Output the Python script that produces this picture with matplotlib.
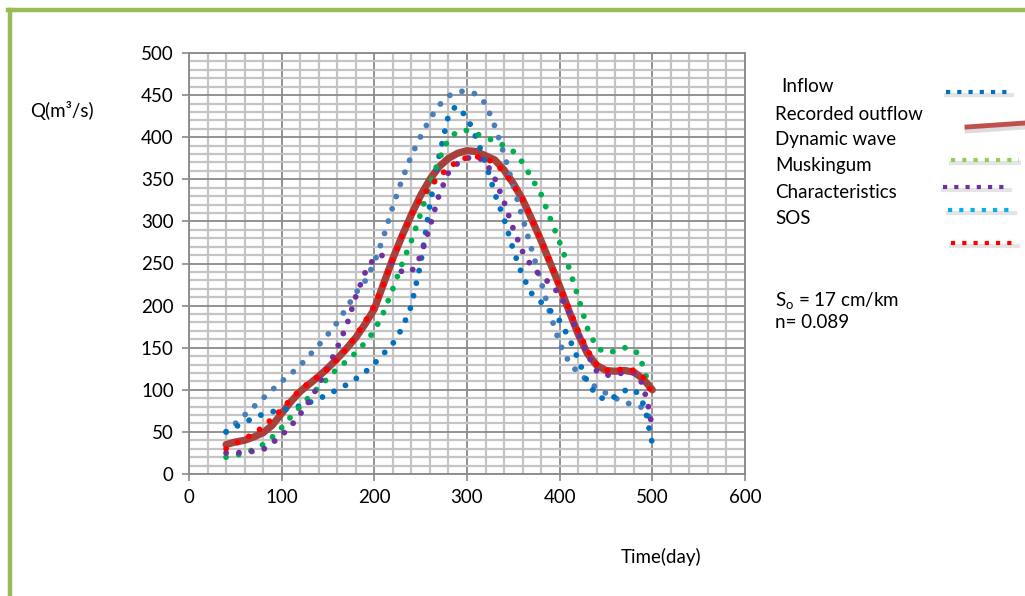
import numpy as np
import matplotlib
matplotlib.use("Agg")
import matplotlib.pyplot as plt
from matplotlib.lines import Line2D

plt.rcParams['font.family'] = ['Lato', 'DejaVu Sans']
plt.rcParams['mathtext.fontset'] = 'custom'
plt.rcParams['mathtext.rm'] = 'Lato'
plt.rcParams['mathtext.it'] = 'Lato:italic'

# time axis (day) for each series
t_inflow = [40, 50, 60, 70, 80, 90, 100, 110, 120, 130, 140, 150, 160, 170, 180, 190,
            200, 210, 220, 230, 240, 250, 260, 270, 280, 290, 300, 310, 320, 330, 340,
            350, 360, 370, 380, 390, 400, 410, 420, 430, 440, 450, 460, 470, 480, 490,
            495, 500]
q_inflow = [50, 60, 70, 80, 90, 100, 110, 119, 129, 141, 153, 166, 180, 197, 215, 229,
            251, 282, 318, 350, 378, 401, 422, 438, 449, 454, 455, 451, 440, 413, 380,
            342, 304, 266, 228, 189, 155, 133, 120, 111, 102, 96, 90, 86, 81, 79,
            72, 60]

t_blue2 = [40, 50, 60, 70, 80, 90, 100, 110, 120, 130, 140, 150, 160, 170, 180, 190,
           200, 210, 220, 230, 240, 250, 260, 270, 280, 288, 300, 310, 320, 330, 340,
           350, 360, 370, 380, 390, 400, 410, 420, 430, 440, 450, 460, 470, 480, 486,
           492, 495, 497, 500]
q_blue2 = [50, 56, 61, 67, 71, 74, 76, 78, 81, 85, 89, 95, 100, 106, 113, 121,
           131, 143, 155, 173, 200, 250, 320, 378, 426, 437, 424, 399, 370, 333, 303,
           266, 235, 214, 204, 194, 182, 162, 136, 109, 93, 88, 92, 99, 101, 93,
           79, 63, 51, 36]

t_green = [40, 50, 60, 70, 80, 90, 100, 110, 120, 130, 140, 150, 160, 170, 180, 190,
           200, 210, 220, 230, 240, 250, 260, 270, 280, 290, 300, 310, 320, 330, 340,
           350, 360, 370, 380, 390, 400, 410, 420, 430, 440, 450, 460, 470, 480, 485,
           490, 495, 500]
q_green = [20, 22, 25, 29, 35, 44, 55, 68, 80, 92, 103, 114, 125, 134, 144, 156,
           170, 192, 220, 250, 277, 309, 344, 374, 398, 407, 408, 404, 400, 395, 390,
           383, 370, 351, 332, 303, 275, 245, 210, 173, 150, 144, 146, 150, 148, 142,
           128, 110, 92]

t_purple = [40, 50, 60, 70, 80, 90, 100, 110, 120, 130, 140, 150, 160, 170, 180, 190,
            200, 210, 220, 230, 240, 250, 260, 270, 280, 290, 300, 310, 320, 330, 340,
            350, 360, 370, 380, 390, 400, 410, 420, 430, 440, 450, 460, 470, 480, 485,
            490, 495, 500]
q_purple = [25, 25, 26, 27, 29, 37, 46, 57, 71, 87, 106, 127, 150, 176, 211, 239,
            257, 260, 250, 240, 240, 259, 294, 332, 358, 369, 375, 377, 371, 351, 323,
            291, 264, 246, 235, 226, 213, 192, 167, 142, 122, 117, 119, 120, 120, 118,
            104, 84, 55]

t_red = [40, 50, 60, 70, 80, 90, 100, 110, 120, 130, 140, 150, 160, 170, 180, 190,
         200, 210, 220, 230, 240, 250, 260, 270, 280, 290, 300, 310, 320, 330, 340,
         350, 360, 370, 380, 390, 400, 410, 420, 430, 440, 450, 460, 470, 480, 490,
         500]
q_red = [30, 36, 42, 48, 56, 66, 77, 89, 100, 109, 116, 125, 136, 149, 164, 181,
         200, 226, 255, 283, 308, 327, 342, 353, 364, 371, 376, 377, 375, 369, 359,
         343, 326, 303, 277, 250, 222, 197, 170, 147, 130, 123, 123, 125, 123, 115,
         96]

t_rec = [40, 50, 60, 70, 80, 90, 100, 110, 120, 130, 140, 150, 160, 170, 180, 190,
         200, 210, 220, 230, 240, 250, 260, 270, 280, 290, 300, 310, 320, 330, 340,
         350, 360, 370, 380, 390, 400, 410, 420, 430, 440, 450, 460, 470, 480, 490,
         500]
q_rec = [35, 38, 40, 44, 49, 58, 72, 86, 98, 107, 116, 126, 137, 149, 162, 178,
         196, 226, 256, 283, 308, 331, 350, 365, 375, 381, 384, 383, 378, 373, 361,
         345, 326, 302, 277, 250, 223, 194, 166, 143, 129, 123, 122, 123, 121, 113,
         100]

legend_labels = ["Inflow", "Recorded outflow", "Dynamic wave", "Muskingum",
                 "Characteristics", "SOS"]

W, H = 1025, 596
fig = plt.figure(figsize=(W / 100, H / 100), dpi=100)
ax = fig.add_axes([189 / W, 1 - 474 / H, (745 - 189) / W, (474 - 53) / H])

def fx(px):
    return px / W

def fy(py):
    return 1 - py / H

fs = 13.5
dot = dict(linestyle=(0, (0.01, 2.2)), dash_capstyle='round', lw=4.2)
ax.plot(t_rec, q_rec, color='#A8403C', lw=5.2, solid_capstyle='round', zorder=3)
ax.plot(t_inflow, q_inflow, color='#4A7EBB', zorder=4, **dot)
ax.plot(t_blue2, q_blue2, color='#0070C0', zorder=4, **dot)
ax.plot(t_green, q_green, color='#00B050', zorder=4, **dot)
ax.plot(t_purple, q_purple, color='#7030A0', zorder=4, **dot)
ax.plot(t_red, q_red, color='#FF0000', zorder=5, **dot)

ax.set_xlim(0, 600)
ax.set_ylim(0, 500)
ax.set_xticks(np.arange(0, 601, 100))
ax.set_yticks(np.arange(0, 501, 50))
ax.set_xticks(np.arange(0, 601, 20), minor=True)
ax.set_yticks(np.arange(0, 501, 10), minor=True)
ax.grid(which='minor', color='#c4c4c4', lw=1.6, zorder=0)
ax.grid(which='major', color='#8a8a8a', lw=1.3, zorder=1)
ax.set_axisbelow(True)
ax.tick_params(which='major', direction='out', length=5, width=1.2, color='#8a8a8a',
               labelsize=fs, pad=6)
ax.tick_params(which='minor', length=0)
for s in ax.spines.values():
    s.set_color('#8a8a8a')
    s.set_linewidth(1.3)

fig.text(fx(30), fy(110), "Q(m³/s)", fontsize=fs, va='center', ha='left')
fig.text(fx(661), fy(557), "Time(day)", fontsize=fs, va='center', ha='center')

# legend drawn by hand, as in the original picture
text_y = [86, 114, 140, 166, 193, 219]
text_x = [781, 775, 775, 775, 775, 775]
for lab, x, y in zip(legend_labels, text_x, text_y):
    fig.text(fx(x), fy(y), lab, fontsize=fs, va='center', ha='left')

samples = [((946, 1012), (92, 92), '#0070C0', 'dot'),
           ((967, 1025), (127, 123), '#C0504D', 'solid'),
           ((951, 1019), (160, 160), '#92D050', 'dot'),
           ((943, 1010), (187, 187), '#7030A0', 'dot'),
           ((948, 1015), (210, 210), '#00B0F0', 'dot'),
           ((951, 1018), (243, 243), '#FF0000', 'dot')]
for (x0, x1), (y0, y1), c, kind in samples:
    xs = [fx(x0), fx(x1)]
    if kind == 'solid':
        fig.add_artist(Line2D(xs, [fy(y0 + 4), fy(y1 + 4)], color='#dcdcdc', lw=3.5))
        fig.add_artist(Line2D(xs, [fy(y0), fy(y1)], color=c, lw=3.5))
    else:
        fig.add_artist(Line2D(xs, [fy(y0 + 3), fy(y1 + 3)], color='#e4e4e4', lw=3))
        fig.add_artist(Line2D(xs, [fy(y0), fy(y1)], color=c, lw=3,
                              linestyle=(0, (1, 1.7)), dash_capstyle='butt'))

fig.text(fx(775), fy(300), r"S$_\mathrm{o}$ = 17 cm/km", fontsize=fs, va='center', ha='left')
fig.text(fx(775), fy(322), "n= 0.089", fontsize=fs, va='center', ha='left')

# green frame at left and top
fig.add_artist(Line2D([fx(10), fx(10)], [fy(10), fy(H + 5)], color='#9BBB59', lw=3.2))
fig.add_artist(Line2D([fx(8), fx(W + 5)], [fy(10), fy(10)], color='#9BBB59', lw=3.2))

fig.savefig("out.png", dpi=100)
